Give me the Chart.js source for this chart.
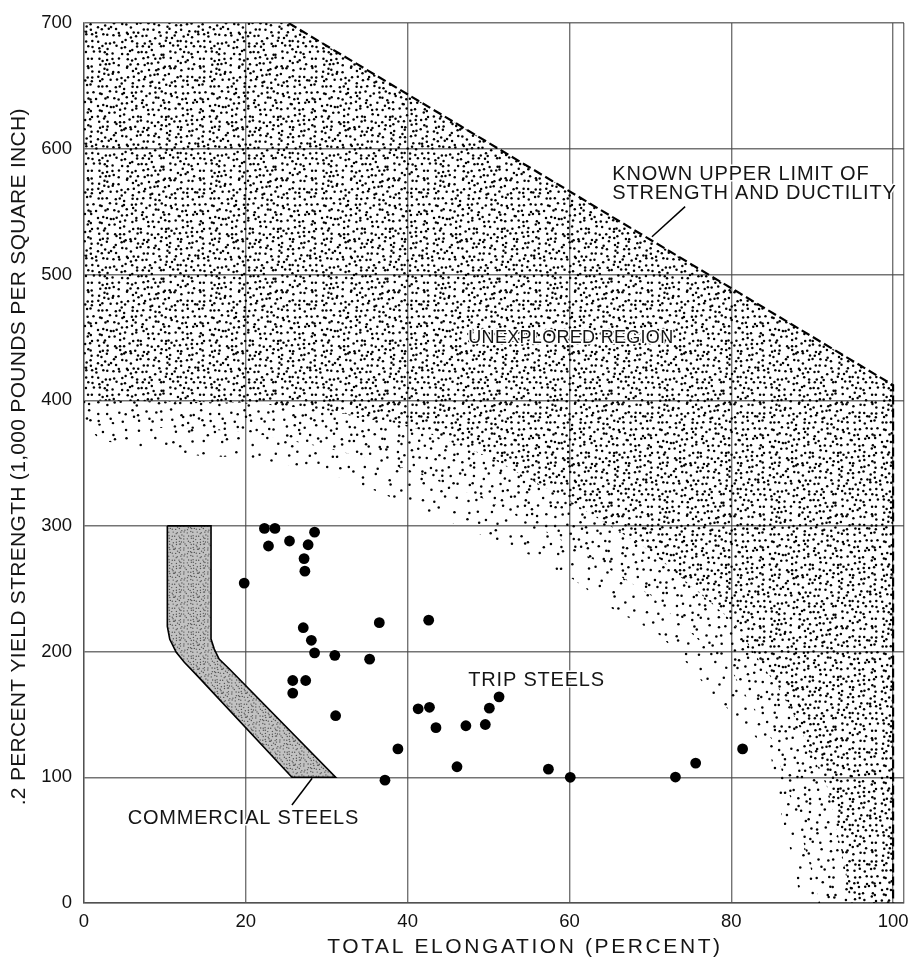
<!DOCTYPE html>
<html><head><meta charset="utf-8">
<script src="https://cdn.jsdelivr.net/npm/chart.js@4.4.1/dist/chart.umd.min.js"></script>
<style>html,body{margin:0;padding:0;background:#fff;} #wrap{width:912px;height:962px;position:relative;}</style>
</head><body><div id="wrap"><canvas id="c" width="912" height="962" style="width:912px;height:962px;display:block"></canvas></div>
<script>
// ---- data ----
const elongation    = [22.3,23.6,28.5,22.8,25.4,27.7,27.2,27.3,19.8,27.1,28.1,28.5,31.0,35.3,25.8,27.4,25.8,31.1,36.5,42.6,41.3,42.7,43.5,47.2,49.6,50.1,51.3,38.8,37.2,46.1,57.4,60.1,73.1,75.6,81.4];
const yieldStrength = [298,298,295,284,288,285,274,264,254.5,219,209,199,197,194,177,177,167,149,223,225,154.5,155.7,139.5,141,142,155,164,122.6,97.7,108.4,106.5,100,100.2,111.3,122.6];

const xTicks = [0,20,40,60,80,100];
const yTicks = [0,100,200,300,400,500,600,700];

// known upper limit of strength and ductility
const limitX = [25.3, 100, 100];
const limitY = [700, 412, 0];

// commercial steels band outline (closed)
const bandX = [10.3,15.7,15.7,16.1,16.7,18.0,31.1,25.7,13.9,12.4,11.4,10.6,10.3,10.3];
const bandY = [300,300,210,202,194,186,100,100,181.5,191.5,199.4,209.8,220,300];

// unexplored region: stipple density boundaries
const denseEdgeX  = [0,20,30,40,50,60,70,80,87,92,95];
const denseEdgeY  = [400,398,392,380,355,320,280,225,160,90,0];
const mediumEdgeX = [0,20,30,40,50,60,70,80,85,88,91];
const mediumEdgeY = [382,375,362,345,320,285,245,185,130,70,0];
const sparseEdgeX = [0,2,10,15,20,30,36,40,48.7,55,60.6,65.5,70.8,73.7,77.8,80,84.8,86,88,88.5];
const sparseEdgeY = [382,368,360,355,355,342,328,317,294,277,257,233,215,197,165,152,120,76,24,0];

// leader lines
const leaderLimitX = [74.3, 70.2];
const leaderLimitY = [554, 530];
const leaderCommX  = [28.2, 25.7];
const leaderCommY  = [99.3, 78];

// labels
const annotationText = ['KNOWN UPPER LIMIT OF','STRENGTH AND DUCTILITY','UNEXPLORED REGION','TRIP STEELS','COMMERCIAL STEELS'];
const annotationX    = [65.3, 65.3, 47.5, 47.5, 5.4];
const annotationY    = [575.4, 559.7, 445.4, 172.6, 63];
const annotationSize = [20, 20, 18, 20, 20];
const xTitle = 'TOTAL ELONGATION (PERCENT)';
const yTitle = '.2 PERCENT YIELD STRENGTH (1,000 POUNDS PER SQUARE INCH)';

// ---- helpers ----
const pts = (xs, ys) => xs.map((v, i) => ({x: v, y: ys[i]}));
const rev = a => a.slice().reverse();
function hash(i, j, k) { const s = Math.sin(i * 127.1 + j * 311.7 + k * 74.7) * 43758.5453; return s - Math.floor(s); }
function dotPattern(step, r, size, seed, bg, fg) {
  const c = document.createElement('canvas'); c.width = c.height = size;
  const g = c.getContext('2d');
  if (bg) { g.fillStyle = bg; g.fillRect(0, 0, size, size); }
  g.fillStyle = fg || '#000';
  const n = Math.round(size / step);
  for (let i = 0; i < n; i++) for (let j = 0; j < n; j++) {
    const x = (i + 0.5 + (hash(i, j, seed) - 0.5) * 0.85) * step;
    const y = (j + 0.5 + (hash(j + 7, i + 3, seed + 1) - 0.5) * 0.85) * step;
    for (const dx of [-size, 0, size]) for (const dy of [-size, 0, size]) {
      g.beginPath(); g.arc(x + dx, y + dy, r, 0, Math.PI * 2); g.fill();
    }
  }
  return g.createPattern(c, 'repeat');
}

const densePat  = dotPattern(5.6, 1.25, 112, 1);
const mediumPat = dotPattern(8, 1.25, 112, 2);
const sparsePat = dotPattern(11.2, 1.25, 112, 3);
const bandPat   = dotPattern(3, 0.7, 24, 4, '#c2c2c2', '#555');

const densePoly  = [{x:0,y:700}].concat(pts(limitX, limitY), rev(pts(denseEdgeX, denseEdgeY)));
const mediumPoly = pts(denseEdgeX, denseEdgeY).concat(rev(pts(mediumEdgeX, mediumEdgeY)));
const sparsePoly = pts(mediumEdgeX, mediumEdgeY).concat(rev(pts(sparseEdgeX, sparseEdgeY)));

const FONT = "'Liberation Sans', Arial, sans-serif";
const gridColor = 'rgba(70,70,70,0.75)';

const textPlugin = {
  id: 'texts',
  afterDraw(chart) {
    const {ctx, scales: {x, y}, chartArea} = chart;
    ctx.save();
    ctx.fillStyle = '#151515';
    ctx.textBaseline = 'alphabetic';
    ctx.textAlign = 'left';
    ctx.strokeStyle = '#fff';
    ctx.lineJoin = 'round';
    annotationText.forEach((t, i) => {
      ctx.font = annotationSize[i] + 'px ' + FONT;
      ctx.letterSpacing = annotationSize[i] < 20 ? '0.3px' : '0.8px';
      const px = x.getPixelForValue(annotationX[i]), py = y.getPixelForValue(annotationY[i]);
      ctx.lineWidth = 3;
      ctx.strokeText(t, px, py);
      ctx.fillText(t, px, py);
    });
    // x title
    ctx.font = '21px ' + FONT;
    ctx.letterSpacing = '2.6px';
    ctx.textAlign = 'center';
    ctx.fillText(xTitle, x.getPixelForValue(54.5), chartArea.bottom + 50);
    // y title
    ctx.letterSpacing = '0.3px';
    ctx.translate(chartArea.left - 59, y.getPixelForValue(355));
    ctx.rotate(-Math.PI / 2);
    ctx.fillText(yTitle, 0, 0);
    ctx.restore();
  }
};

new Chart(document.getElementById('c'), {
  type: 'scatter',
  data: {
    datasets: [
      { label: 'TRIP steels', data: pts(elongation, yieldStrength), pointRadius: 5.4, pointBackgroundColor: '#000', pointBorderWidth: 0, showLine: false },
      { label: 'Known upper limit', data: pts(limitX, limitY), showLine: true, borderColor: '#000', borderWidth: 2.2, borderDash: [9, 4], pointRadius: 0, fill: false },
      { label: 'leader1', data: pts(leaderLimitX, leaderLimitY), showLine: true, borderColor: '#000', borderWidth: 1.5, pointRadius: 0, fill: false },
      { label: 'leader2', data: pts(leaderCommX, leaderCommY), showLine: true, borderColor: '#000', borderWidth: 1.5, pointRadius: 0, fill: false },
      { label: 'Commercial steels', data: pts(bandX, bandY), showLine: true, borderColor: '#000', borderWidth: 1.6, backgroundColor: bandPat, fill: 'shape', pointRadius: 0 },
      { label: 'dense', data: densePoly, showLine: true, borderWidth: 0, borderColor: 'rgba(0,0,0,0)', backgroundColor: densePat, fill: 'shape', pointRadius: 0 },
      { label: 'medium', data: mediumPoly, showLine: true, borderWidth: 0, borderColor: 'rgba(0,0,0,0)', backgroundColor: mediumPat, fill: 'shape', pointRadius: 0 },
      { label: 'sparse', data: sparsePoly, showLine: true, borderWidth: 0, borderColor: 'rgba(0,0,0,0)', backgroundColor: sparsePat, fill: 'shape', pointRadius: 0 }
    ]
  },
  options: {
    responsive: false,
    animation: false,
    devicePixelRatio: 1,
    layout: { padding: { top: 15, right: 4, bottom: 0, left: 0 } },
    plugins: { legend: { display: false }, tooltip: { enabled: false } },
    scales: {
      x: {
        type: 'linear', min: 0, max: 101.35,
        afterBuildTicks: s => { s.ticks = xTicks.map(v => ({value: v})).concat([{value: 101.35}]); },
        afterFit: s => { s.height = 59; },
        ticks: { callback: v => (xTicks.includes(v) ? String(v) : ''), font: { family: FONT, size: 18.5 }, color: '#111', padding: 8, maxRotation: 0, autoSkip: false },
        grid: { color: gridColor, lineWidth: 1.4, drawTicks: false },
        border: { color: gridColor, width: 1.4 }
      },
      y: {
        type: 'linear', min: 0, max: 700,
        afterBuildTicks: s => { s.ticks = yTicks.map(v => ({value: v})); },
        afterFit: s => { s.width = 84; },
        ticks: { font: { family: FONT, size: 18.5 }, color: '#111', padding: 12, autoSkip: false },
        grid: { color: gridColor, lineWidth: 1.4, drawTicks: false },
        border: { color: gridColor, width: 1.4 }
      }
    }
  },
  plugins: [textPlugin]
});
</script>
</body></html>
